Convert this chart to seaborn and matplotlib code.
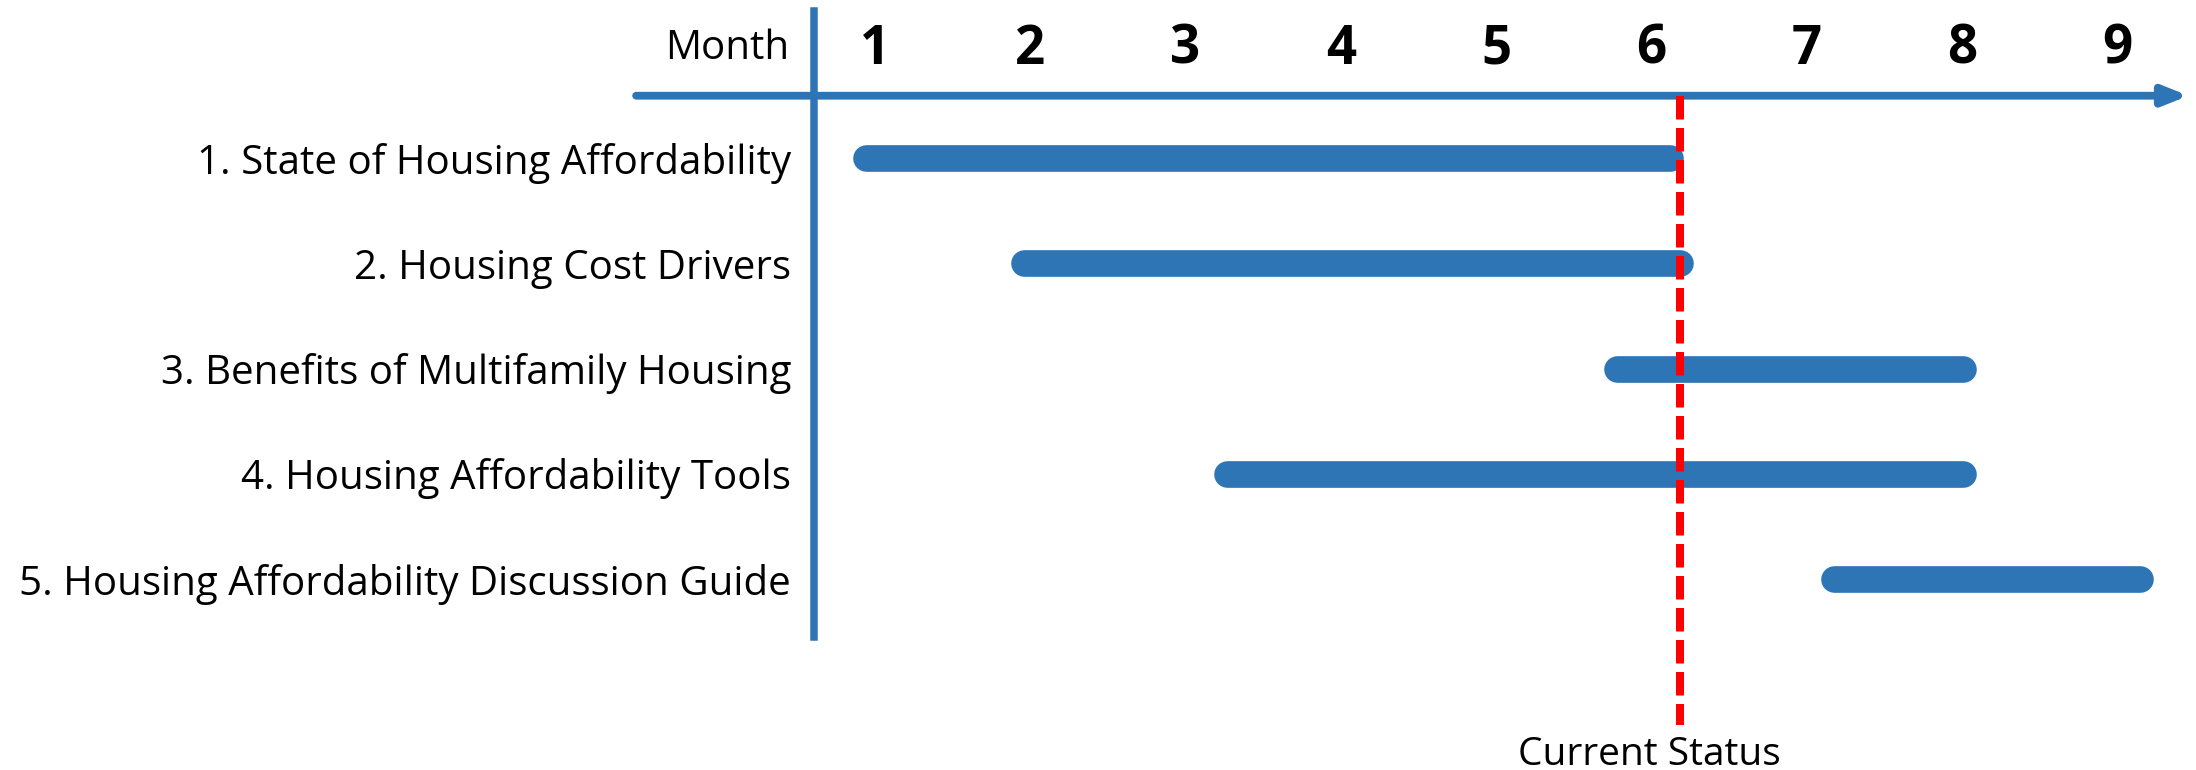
import matplotlib
matplotlib.use("Agg")
import matplotlib.pyplot as plt
import seaborn as sns
import pandas as pd

# ---- data ----
tasks = [
    "1. State of Housing Affordability",
    "2. Housing Cost Drivers",
    "3. Benefits of Multifamily Housing",
    "4. Housing Affordability Tools",
    "5. Housing Affordability Discussion Guide",
]
start_month = [0.94, 1.96, 5.78, 3.27, 7.18]
end_month = [6.12, 6.185, 8.01, 8.01, 9.15]
months = [1, 2, 3, 4, 5, 6, 7, 8, 9]
current_status = 6.185
axis_title = "Month"
status_label = "Current Status"

BLUE = "#2E75B6"
RED = "#FF0000"

sns.set_theme(style="white")
plt.rcParams["font.family"] = ["Open Sans", "DejaVu Sans"]

rows = []
for i, (t, s, e) in enumerate(zip(tasks, start_month, end_month)):
    rows.append({"task": t, "pos": i, "month": s})
    rows.append({"task": t, "pos": i, "month": e})
df = pd.DataFrame(rows)

W, H, DPI = 2196, 770, 100
fig = plt.figure(figsize=(W / DPI, H / DPI), dpi=DPI)
ax = fig.add_axes([814 / W, 1 - 637 / H, (W - 814) / W, 626 / H])

sns.lineplot(data=df, x="month", y="pos", units="task", estimator=None,
             color=BLUE, lw=19.2, solid_capstyle="round", ax=ax,
             legend=False, zorder=3)

ax.set_xlim(0.607, 9.509)
ax.set_ylim(4.551, -1.397)
ax.set_xlabel("")
ax.set_ylabel("")
ax.set_xticks([])
ax.set_yticks(range(len(tasks)))
ax.set_yticklabels(tasks, fontsize=29, color="black")
ax.tick_params(axis="y", length=0, pad=16.5)

for side in ["top", "right", "bottom"]:
    ax.spines[side].set_visible(False)
ax.spines["left"].set_color(BLUE)
ax.spines["left"].set_linewidth(5.4)

# timeline arrow
arrow_y = -0.592
ax.annotate("", xy=(9.46, arrow_y), xytext=(-0.539, arrow_y),
            arrowprops=dict(arrowstyle="-|>,head_length=0.5,head_width=0.2",
                            color=BLUE, lw=5.6, shrinkA=0, shrinkB=0,
                            mutation_scale=29),
            annotation_clip=False, zorder=2)

# month labels
for m in months:
    ax.text(m, -0.894, str(m), ha="center", va="baseline",
            fontsize=38, fontweight="bold", color="black", clip_on=False)
ax.text(0.446, -0.94, axis_title, ha="right", va="baseline",
        fontsize=29, color="black", clip_on=False)

# current status line
ax.plot([current_status, current_status], [arrow_y, 5.387], color=RED,
        lw=5.76, linestyle=(0, (2.94, 1.06)), clip_on=False, zorder=5)
ax.text(5.986, 5.767, status_label, ha="center", va="baseline",
        fontsize=28, color="black", clip_on=False)

fig.savefig("out.png", dpi=DPI, facecolor="white")
